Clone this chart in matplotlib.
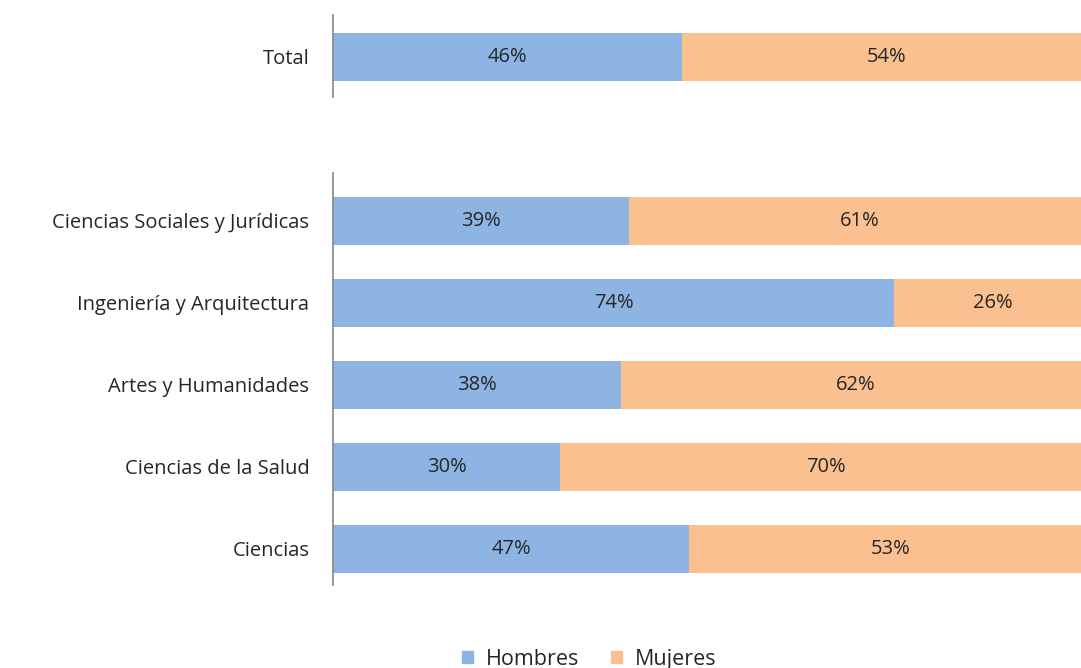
import matplotlib
matplotlib.use("Agg")
import matplotlib.pyplot as plt
from matplotlib.patches import Patch
import numpy as np

plt.rcParams["font.family"] = ["Open Sans", "DejaVu Sans"]

BLUE = "#8EB4E3"
ORANGE = "#FAC090"
TEXT = "#262626"

# Total bar
total_label = ["Total"]
total_hombres = [46]
total_mujeres = [54]

# Areas, bottom to top as drawn
areas = ["Ciencias", "Ciencias de la Salud", "Artes y Humanidades",
         "Ingeniería y Arquitectura", "Ciencias Sociales y Jurídicas"]
hombres = [47, 30, 38, 74, 39]
mujeres = [53, 70, 62, 26, 61]

W, H = 1081, 668
fig = plt.figure(figsize=(W / 100, H / 100), dpi=100)

left = 333 / W
width = (1091 - 333) / W
ax_top = fig.add_axes([left, (H - 97) / H, width, 82 / H])
ax_bot = fig.add_axes([left, (H - 585) / H, width, 412 / H])


def draw(ax, labels, men, women, ylim):
    y = np.arange(len(labels))
    ax.barh(y, men, height=0.585, color=BLUE, edgecolor="none")
    ax.barh(y, women, left=men, height=0.585, color=ORANGE, edgecolor="none")
    for yi, m, w in zip(y, men, women):
        ax.text(m / 2, yi, f"{m}%", ha="center", va="center", fontsize=14.5, color=TEXT)
        ax.text(m + w / 2, yi, f"{w}%", ha="center", va="center", fontsize=14.5, color=TEXT)
    ax.set_xlim(0, 100)
    ax.set_ylim(*ylim)
    ax.set_yticks(y, labels, fontsize=14.5, color=TEXT)
    ax.tick_params(axis="y", length=0, pad=17)
    ax.set_xticks([])
    for side in ("top", "right", "bottom"):
        ax.spines[side].set_visible(False)
    ax.spines["left"].set_color("#868686")
    ax.spines["left"].set_linewidth(1.2)


draw(ax_top, total_label, total_hombres, total_mujeres, (-0.488, 0.512))
draw(ax_bot, areas, hombres, mujeres, (-0.439, 4.585))

handles = [Patch(color=BLUE, label="Hombres"), Patch(color=ORANGE, label="Mujeres")]
fig.legend(handles=handles, loc="center", bbox_to_anchor=(0.545, 0.013), ncol=2,
           frameon=False, fontsize=15.5, handlelength=0.5, handleheight=0.5,
           columnspacing=1.5, handletextpad=0.6, labelcolor=TEXT)

fig.savefig("out.png", dpi=100)
